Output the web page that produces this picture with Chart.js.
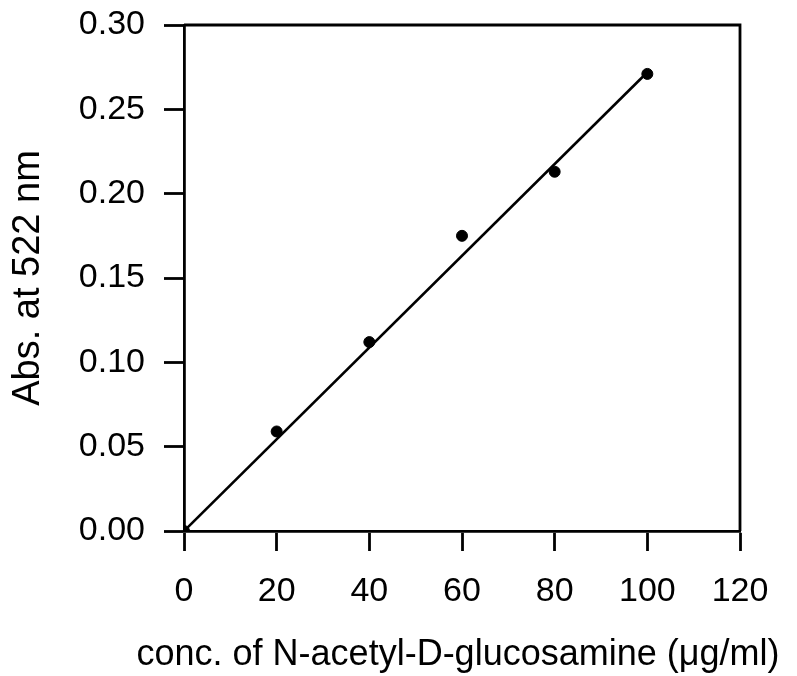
<!DOCTYPE html>
<html>
<head>
<meta charset="utf-8">
<script src="https://cdn.jsdelivr.net/npm/chart.js@4/dist/chart.umd.min.js"></script>
<style>
  html, body { margin: 0; padding: 0; background: #fff; }
  #wrap { width: 797px; height: 676px; position: relative; }
</style>
</head>
<body>
<div id="wrap"><canvas id="c" width="797" height="676"></canvas></div>
<script>
// Data
const concentrations = [0, 20, 40, 60, 80, 100];          // µg/ml
const absorbance     = [0.000, 0.059, 0.112, 0.175, 0.213, 0.271];
const fitLineX = [0, 100];
const fitLineY = [0.000, 0.272];
const xTickValues = [0, 20, 40, 60, 80, 100, 120];
const yTickValues = [0.00, 0.05, 0.10, 0.15, 0.20, 0.25, 0.30];
const xTitle = 'conc. of N-acetyl-D-glucosamine (\u03bcg/ml)';
const yTitle = 'Abs. at 522 nm';

const FONT = "'Liberation Sans', Arial, Helvetica, sans-serif";

// Plot frame (top and right sides) and the x-axis title, which in the
// reference is wider than the plot area (Chart.js would squeeze it).
const framePlugin = {
  id: 'frame',
  afterDatasetsDraw(chart) {
    const {ctx, chartArea: a} = chart;
    ctx.save();
    ctx.strokeStyle = '#000';
    ctx.lineWidth = 2.8;
    ctx.beginPath();
    ctx.moveTo(a.left, a.top);
    ctx.lineTo(a.right, a.top);
    ctx.lineTo(a.right, a.bottom);
    ctx.stroke();
    ctx.restore();
  },
  afterDraw(chart) {
    const {ctx, chartArea: a} = chart;
    ctx.save();
    ctx.fillStyle = '#000';
    ctx.font = '36px ' + FONT;
    ctx.textAlign = 'center';
    ctx.textBaseline = 'alphabetic';
    ctx.fillText(xTitle, (a.left + a.right) / 2 - 4, a.bottom + 134);
    ctx.restore();
  }
};

new Chart(document.getElementById('c'), {
  type: 'scatter',
  data: {
    datasets: [
      {
        label: 'fit',
        data: fitLineX.map((x, i) => ({x, y: fitLineY[i]})),
        showLine: true,
        borderColor: '#000',
        borderWidth: 2.6,
        pointRadius: 0,
        fill: false
      },
      {
        label: 'data',
        data: concentrations.map((x, i) => ({x, y: absorbance[i]})),
        backgroundColor: '#000',
        borderColor: '#000',
        pointRadius: 5.5,
        pointHoverRadius: 5.5
      }
    ]
  },
  options: {
    responsive: false,
    animation: false,
    devicePixelRatio: 1,
    layout: { padding: { left: 0, top: 25, right: 57, bottom: 0 } },
    plugins: { legend: { display: false }, tooltip: { enabled: false } },
    scales: {
      x: {
        type: 'linear',
        min: 0, max: 120,
        afterBuildTicks(scale) { scale.ticks = xTickValues.map(v => ({value: v})); },
        afterFit(scale) {
          scale.height = 145;
          scale.paddingLeft = 0; scale.paddingRight = 0;
        },
        ticks: {
          color: '#000',
          font: { family: FONT, size: 34 },
          padding: 20,
          maxRotation: 0,
          callback: v => String(v)
        },
        grid: { drawOnChartArea: false, drawTicks: true, tickLength: 20, tickWidth: 2.8, tickColor: '#000' },
        border: { display: true, color: '#000', width: 2.8 },
        title: { display: false, text: xTitle }
      },
      y: {
        type: 'linear',
        min: 0, max: 0.30,
        afterBuildTicks(scale) { scale.ticks = yTickValues.map(v => ({value: v})); },
        afterFit(scale) {
          scale.width = 184;
          scale.paddingTop = 0; scale.paddingBottom = 0;
        },
        ticks: {
          color: '#000',
          font: { family: FONT, size: 34 },
          padding: 19,
          callback: v => Number(v).toFixed(2)
        },
        grid: { drawOnChartArea: false, drawTicks: true, tickLength: 20, tickWidth: 2.8, tickColor: '#000' },
        border: { display: true, color: '#000', width: 2.8 },
        title: {
          display: true,
          text: yTitle,
          color: '#000',
          font: { family: FONT, size: 38 },
          padding: { top: 6, bottom: 4 }
        }
      }
    }
  },
  plugins: [framePlugin]
});
</script>
</body>
</html>
